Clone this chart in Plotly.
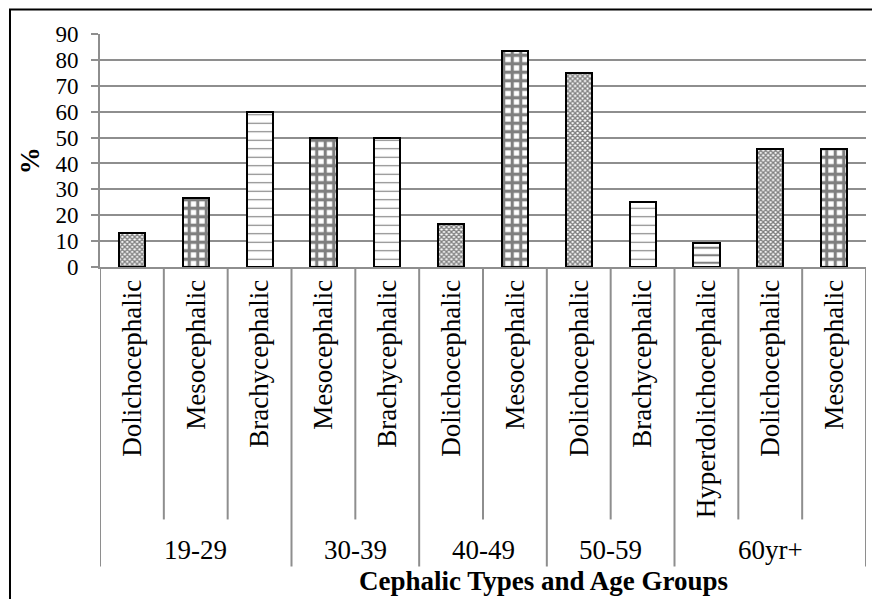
import plotly.graph_objects as go

# ---- data ----
categories = ["Dolichocephalic", "Mesocephalic", "Brachycephalic",
              "Mesocephalic", "Brachycephalic",
              "Dolichocephalic", "Mesocephalic",
              "Dolichocephalic", "Brachycephalic",
              "Hyperdolichocephalic", "Dolichocephalic", "Mesocephalic"]
groups = ["19-29", "19-29", "19-29",
          "30-39", "30-39",
          "40-49", "40-49",
          "50-59", "50-59",
          "60yr+", "60yr+", "60yr+"]
values = [13.3, 26.7, 60.0,
          50.0, 50.0,
          16.7, 83.3,
          75.0, 25.0,
          9.1, 45.5, 45.5]
y_ticks = [0, 10, 20, 30, 40, 50, 60, 70, 80, 90]

# ---- styles ----
FONT = "Liberation Serif, Times New Roman, serif"
FS = 27
GRID = "#8e8e8e"
pattern_style = {
    "Dolichocephalic": dict(shape="x", size=3.5, solidity=0.65),
    "Mesocephalic": dict(shape="+", size=8.5, solidity=0.6),
    "Brachycephalic": dict(shape="-", size=8.5, solidity=0.13),
    "Hyperdolichocephalic": dict(shape="-", size=7.5, solidity=0.28),
}

x = list(range(len(categories)))

fig = go.Figure()
fig.add_trace(go.Bar(
    x=x, y=values, width=0.41,
    marker=dict(
        color="white",
        line=dict(color="black", width=2),
        pattern=dict(
            shape=[pattern_style[c]["shape"] for c in categories],
            size=[pattern_style[c]["size"] for c in categories],
            solidity=[pattern_style[c]["solidity"] for c in categories],
            fgcolor="black", bgcolor="white", fillmode="overlay",
        ),
    ),
    showlegend=False,
))

# separators below the axis
shapes = []
n = len(categories)
for i in range(n + 1):
    is_group_edge = (i == 0 or i == n or groups[i] != groups[i - 1])
    shapes.append(dict(
        type="line", xref="x", yref="paper",
        x0=i - 0.5, x1=i - 0.5, y0=0, y1=-1.285 if is_group_edge else -1.0835,
        line=dict(color=GRID, width=2), layer="below",
    ))
# outer chart border
shapes.append(dict(type="rect", xref="paper", yref="paper",
                   x0=-0.1175, x1=1.03, y0=1.105, y1=-1.46,
                   line=dict(color="black", width=2)))

annotations = []
# group labels
seen = []
for g in groups:
    if g not in seen:
        seen.append(g)
for g in seen:
    idx = [i for i, gg in enumerate(groups) if gg == g]
    annotations.append(dict(
        x=sum(idx) / len(idx), y=-1.216, xref="x", yref="paper",
        text=g, showarrow=False, xanchor="center", yanchor="middle",
        font=dict(family=FONT, size=FS, color="black"),
    ))
annotations.append(dict(
    x=0.579, y=-1.349, xref="paper", yref="paper",
    text="<b>Cephalic Types and Age Groups</b>", showarrow=False,
    xanchor="center", yanchor="middle",
    font=dict(family=FONT, size=FS, color="black"),
))
annotations.append(dict(
    x=-0.0914, y=0.458, xref="paper", yref="paper",
    text="<b>%</b>", showarrow=False, textangle=-90,
    xanchor="center", yanchor="middle",
    font=dict(family=FONT, size=FS, color="black"),
))

fig.update_layout(
    width=880, height=599,
    margin=dict(l=92, r=22, t=25.5, b=340),
    paper_bgcolor="white", plot_bgcolor="white",
    shapes=shapes, annotations=annotations,
    bargap=0,
    xaxis=dict(
        range=[-0.5, n - 0.5], tickmode="array", tickvals=x, ticktext=categories,
        tickangle=-90, showgrid=False, zeroline=False,
        showline=True, linecolor=GRID, linewidth=2,
        ticks="", ticklabelstandoff=0,
        tickfont=dict(family=FONT, size=FS, color="black"),
    ),
    yaxis=dict(
        range=[0, 90], tickmode="array", tickvals=y_ticks,
        showgrid=True, gridcolor=GRID, gridwidth=2, zeroline=False,
        showline=True, linecolor=GRID, linewidth=2,
        ticks="outside", ticklen=7, tickcolor=GRID, tickwidth=2,
        ticklabelstandoff=8,
        tickfont=dict(family=FONT, size=23, color="black"),
    ),
)

fig.write_html("out.html")
